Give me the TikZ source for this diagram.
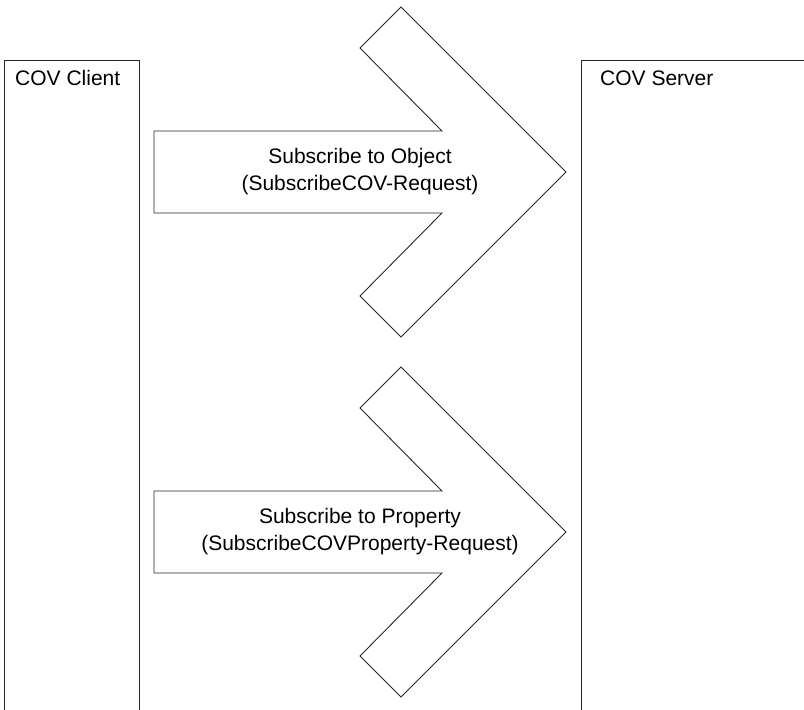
\documentclass[tikz,border=0pt]{standalone}
\usepackage{fontspec}
\setmainfont{Liberation Sans}
\begin{document}
\begin{tikzpicture}[x=1pt,y=-1pt,
  outline/.style={draw=black!85,line width=0.9pt,line join=miter},
  lbl/.style={font=\fontsize{21}{27}\selectfont,align=center,inner sep=0pt},
  hdr/.style={font=\fontsize{21}{25}\selectfont,anchor=west,inner sep=0pt}]
\useasboundingbox (0,0) rectangle (804,710);
% lifeline boxes (open at the bottom edge)
\draw[outline] (4,712) -- (4,60) -- (139,60) -- (139,712);
\draw[outline] (581,712) -- (581,60) -- (806,60);
\node[hdr] (client) at (15,78) {COV Client};
\node[hdr] (server) at (600,78) {COV Server};
% chevron arrows
\foreach \cy/\nm/\txt in {172/obj/{Subscribe to Object\\(SubscribeCOV-Request)},
                          532/prop/{Subscribe to Property\\(SubscribeCOVProperty-Request)}}{
  \draw[outline] (154,\cy-41) -- (442,\cy-41) -- (360,\cy-124) -- (401,\cy-165)
     -- (566,\cy) -- (401,\cy+165) -- (360,\cy+124) -- (442,\cy+41)
     -- (154,\cy+41) -- cycle;
  \node[lbl] (\nm) at (360,\cy) {\txt};
}
\end{tikzpicture}
\end{document}
